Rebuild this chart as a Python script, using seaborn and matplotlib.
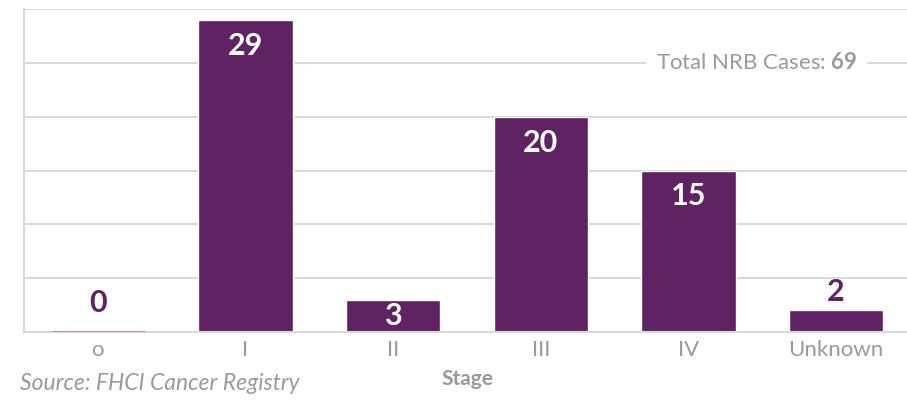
import matplotlib
matplotlib.use("Agg")
import matplotlib.pyplot as plt
import seaborn as sns
import pandas as pd

# --- Data ---
stages = ["o", "I", "II", "III", "IV", "Unknown"]
cases = [0, 29, 3, 20, 15, 2]
total_cases = 69

purple = "#5f2262"
light_purple = "#b48cba"
grey_text = "#9a9a9c"
grid_grey = "#d9d9d9"

sns.set_style("white")
plt.rcParams["font.family"] = ["Lato", "DejaVu Sans"]
plt.rcParams["mathtext.fontset"] = "custom"
plt.rcParams["mathtext.rm"] = "Lato"
plt.rcParams["mathtext.bf"] = "Lato:bold"

df = pd.DataFrame({"stage": stages, "cases": cases})

fig = plt.figure(figsize=(9.07, 4.0), dpi=100)
ax = fig.add_axes([0.0265, 0.17, 0.9768, 0.8075])

sns.barplot(data=df, x="stage", y="cases", color=purple, saturation=1,
            width=0.64, ax=ax)

ax.set_ylim(0, 30)
ax.set_yticks(range(0, 31, 5))
ax.set_yticklabels([])
ax.yaxis.grid(True, color=grid_grey, linewidth=1.5)
ax.set_axisbelow(True)
for side in ["top", "right"]:
    ax.spines[side].set_visible(False)
ax.spines["left"].set_color(grid_grey)
ax.spines["left"].set_linewidth(1.5)
ax.spines["bottom"].set_color(grid_grey)
ax.spines["bottom"].set_linewidth(1.5)

ax.tick_params(axis="both", length=0)
ax.tick_params(axis="x", labelsize=16, labelcolor=grey_text, pad=6)
ax.set_xlabel("Stage", fontsize=15, fontweight="bold", color=grey_text,
              labelpad=6)
ax.set_ylabel("")

# value labels
for patch, val in zip(ax.patches, cases):
    x = patch.get_x() + patch.get_width() / 2
    if val == 0:
        patch.set_edgecolor(light_purple)
        patch.set_linewidth(2)
        patch.set_zorder(5)
    if val >= 3:
        ax.text(x, max(val - 2.4, val / 2), str(val), ha="center",
                va="center", color="white", fontsize=22, fontweight="bold")
    else:
        ax.text(x, max(val + 0.45, 1.4), str(val), ha="center", va="bottom",
                color=purple, fontsize=22, fontweight="bold")

# total annotation sitting on the gridline
ax.text(4.46, 25, r"Total NRB Cases: $\mathbf{%d}$" % total_cases,
        ha="center", va="center", fontsize=16, color=grey_text,
        bbox=dict(facecolor="white", edgecolor="none", pad=7))

fig.text(0.022, 0.04, "Source: FHCI Cancer Registry", fontsize=16.5,
         style="italic", color=grey_text, ha="left", va="center")

fig.savefig("out.png", dpi=100)
